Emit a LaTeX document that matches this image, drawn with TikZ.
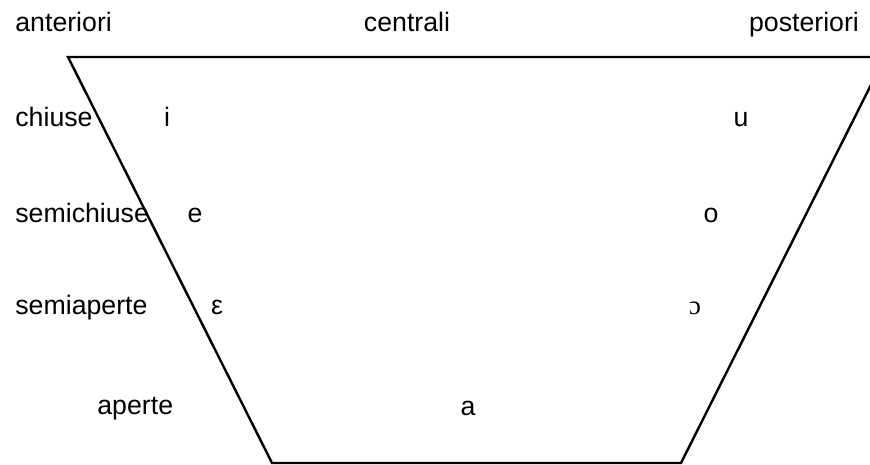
\documentclass[tikz,border=0pt]{standalone}
\usepackage{fontspec}
\setmainfont{Liberation Sans}
\newfontfamily\ipafont{Liberation Serif}

\begin{document}
\begin{tikzpicture}[
  x=0.5bp, y=-0.5bp,
  font=\fontsize{13.4}{15}\selectfont,
  lbl/.style  = {anchor=base west, inner sep=0pt},
  vow/.style  = {anchor=base, inner sep=0pt},
  edge/.style = {line width=1.2bp, line join=miter},
]
\useasboundingbox (0,0) rectangle (870,465);
\clip (0,0) rectangle (870,465);

% =========================== column headings ===============================
\node[lbl] (ant) at (15,32)  {anteriori};
\node[vow] (cen) at (407,32) {centrali};
\node[vow] (pos) at (804,32) {posteriori};

% =========================== row labels ====================================
\node[lbl] (chi) at (15,127) {chiuse};
\node[lbl] (sch) at (15,223) {semichiuse};
\node[lbl] (sap) at (15,315) {semiaperte};
\node[lbl] (ape) at (97,415) {aperte};

% =========================== vowels ========================================
\node[vow] (vi)   at (167,127) {i};
\node[vow] (vu)   at (741,127) {u};
\node[vow] (ve)   at (195,223) {e};
\node[vow] (vo)   at (711,223) {o};
\node[vow] (veps) at (217,315) {ε};
\node[vow] (voo)  at (695,315) {\ipafont ɔ};
\node[vow] (va)   at (468,416) {a};

% =========================== trapezoid =====================================
\coordinate (tl) at (68,57);
\coordinate (tr) at (885,57);
\coordinate (br) at (681,463);
\coordinate (bl) at (272,463);
\draw[edge] (tl) -- (tr) -- (br) -- (bl) -- cycle;

\end{tikzpicture}
\end{document}
